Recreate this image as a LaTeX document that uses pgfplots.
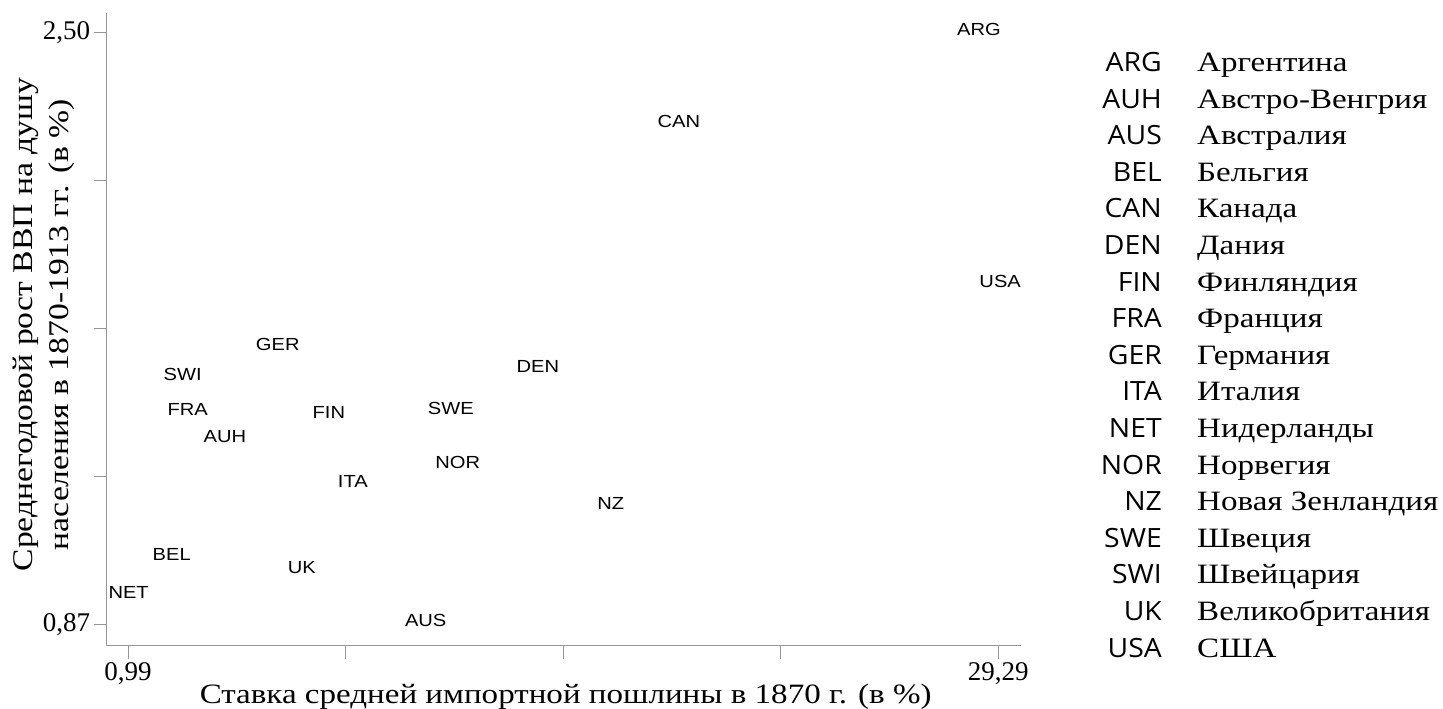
\documentclass[border=0pt]{standalone}
\usepackage{fontspec}
\setmainfont{Liberation Serif}
\newfontfamily\wserif{Liberation Serif}[FakeStretch=1.18]
\newfontfamily\lsans{Liberation Sans}[FakeStretch=1.15]
\newfontfamily\osans{Open Sans}[FakeStretch=1.07]
\usepackage{pgfplots}
\pgfplotsset{compat=1.18}
\definecolor{axg}{RGB}{150,150,150}
\begin{document}
\begin{tikzpicture}
\useasboundingbox (0,0) rectangle (1443pt,709pt);
\begin{axis}[
  at={(106.7pt,63pt)}, anchor=south west,
  scale only axis, width=914.3pt, height=632.7pt,
  xmin=0.297, xmax=30.028, ymin=0.812, ymax=2.553,
  axis lines=left, axis line style={-, draw=axg, line width=1pt},
  tick align=outside, major tick length=13pt,
  tick style={draw=axg, line width=1pt},
  xtick={0.99,8.065,15.14,22.215,29.29},
  xticklabels={{0,99},{},{},{},{29,29}},
  ytick={0.87,1.2775,1.685,2.0925,2.50},
  yticklabels={{0,87},{},{},{},{2,50}},
  tick label style={font=\fontsize{27}{32}\selectfont},
  xlabel={Ставка средней импортной пошлины в 1870 г. (в \%)},
  xlabel style={at={(axis description cs:0.502,-0.0905)}, anchor=base, font=\wserif\fontsize{28}{34}\selectfont},
  ylabel={Среднегодовой рост ВВП на душу\\населения в 1870-1913 гг. (в \%)},
  ylabel style={at={(axis description cs:-0.0685,0.508)}, anchor=center, align=center, font=\wserif\fontsize{28.5}{36}\selectfont},
  clip=false,
]
\addplot[draw=none, mark=none, nodes near coords, point meta=explicit symbolic, nodes near coords align=center, every node near coord/.append style={font=\lsans\fontsize{17.5}{21}\selectfont, inner sep=0pt}] table[meta=label] {
x y label
28.66 2.509 ARG
18.90 2.256 CAN
29.35 1.815 USA
5.86 1.641 GER
14.32 1.581 DEN
2.77 1.559 SWI
2.93 1.462 FRA
7.52 1.454 FIN
11.49 1.465 SWE
4.14 1.388 AUH
11.71 1.316 NOR
8.30 1.264 ITA
16.69 1.203 NZ
2.41 1.063 BEL
6.64 1.027 UK
1.01 0.958 NET
10.67 0.881 AUS
};
\end{axis}
\foreach \c/\n [count=\i from 0] in {ARG/Аргентина, AUH/Австро-Венгрия, AUS/Австралия, BEL/Бельгия, CAN/Канада, DEN/Дания, FIN/Финляндия, FRA/Франция, GER/Германия, ITA/Италия, NET/Нидерланды, NOR/Норвегия, NZ/Новая Зенландия, SWE/Швеция, SWI/Швейцария, UK/Великобритания, USA/США} {
  \node[anchor=base east, inner sep=0pt, font=\osans\fontsize{26.5}{30}\selectfont] at (1162pt, {(637.5-36.6*\i)*1pt}) {\c};
  \node[anchor=base west, inner sep=0pt, font=\wserif\fontsize{28}{34}\selectfont] at (1197pt, {(637.5-36.6*\i)*1pt}) {\n};
}
\end{tikzpicture}
\end{document}
